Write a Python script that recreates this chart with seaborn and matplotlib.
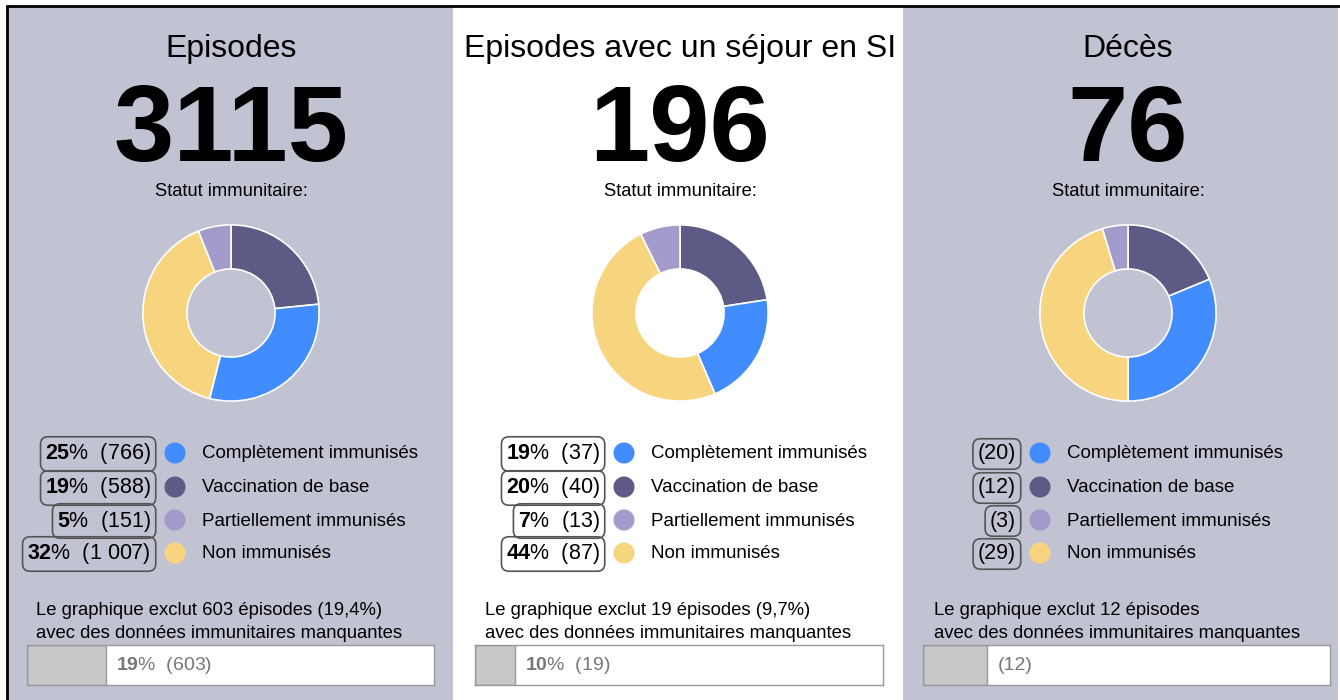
import matplotlib
matplotlib.use("Agg")
import matplotlib.pyplot as plt
import pandas as pd
import seaborn as sns
from matplotlib.patches import Rectangle

# data
titles = ["Episodes", "Episodes avec un séjour en SI", "Décès"]
totals = [3115, 196, 76]
categories = ["Complètement immunisés", "Vaccination de base",
              "Partiellement immunisés", "Non immunisés"]
colors = ["#418CFF", "#5D5A85", "#A39BCB", "#F7D57F"]
episodes_counts = [766, 588, 151, 1007]
si_counts = [37, 40, 13, 87]
deces_counts = [20, 12, 3, 29]
missing = [603, 19, 12]
show_pct = [True, True, False]
pie_order = [1, 0, 3, 2]  # clockwise from 12 o'clock

counts = [episodes_counts, si_counts, deces_counts]

sns.set_theme(style="white")
plt.rcParams["font.family"] = ["Liberation Sans", "DejaVu Sans"]
plt.rcParams["text.color"] = "black"
plt.rcParams["mathtext.fontset"] = "custom"
plt.rcParams["mathtext.rm"] = "Liberation Sans"
plt.rcParams["mathtext.bf"] = "Liberation Sans:bold"

W, H = 1340, 700
fig = plt.figure(figsize=(W / 100, H / 100), dpi=100)
fig.patch.set_facecolor("white")


def px_axes(x0, y0, x1, y1):
    return fig.add_axes([x0 / W, 1 - y1 / H, (x1 - x0) / W, (y1 - y0) / H])


def fmt(n):
    return f"{n:,}".replace(",", " ")


bg = px_axes(0, 0, W, H)
bg.set_xlim(0, W)
bg.set_ylim(H, 0)
bg.axis("off")

panels = [(8, 453, "#C2C3D2"), (453, 903, "white"), (903, 1338, "#C2C3D2")]
for x0, x1, fc in panels:
    bg.add_patch(Rectangle((x0, 6), x1 - x0, H - 6, facecolor=fc, edgecolor="none"))
bg.plot([7, W], [6, 6], color="black", lw=2)
bg.plot([7, 7], [6, H], color="black", lw=2)

centers = [231, 680, 1128]
leg_shift = [0, 0, -32]
bar_x = [(27, 434), (475, 883), (923, 1330)]
note_x = [36, 485, 934]

for i, cx in enumerate(centers):
    total = totals[i]
    vals = counts[i]
    bg.text(cx, 57, titles[i], ha="center", va="baseline", fontsize=23)
    bg.text(cx, 161, str(total), ha="center", va="baseline", fontsize=78,
            fontweight="bold")
    bg.text(cx, 196, "Statut immunitaire:", ha="center", va="baseline",
            fontsize=13.2)

    # donut
    ax = px_axes(cx - 89, 313 - 89, cx + 89, 313 + 89)
    ax.set_facecolor("none")
    ax.pie([vals[k] for k in pie_order], colors=[colors[k] for k in pie_order],
           startangle=90, counterclock=False, radius=1,
           wedgeprops=dict(width=0.5, edgecolor="white", linewidth=1.2))
    ax.set_xlim(-1.01, 1.01)
    ax.set_ylim(-1.01, 1.01)
    ax.axis("off")

    # legend
    sh = leg_shift[i]
    rows = [453, 487, 520, 553]
    leg = pd.DataFrame({"x": [cx - 56 + sh] * 4, "y": rows, "cat": categories})
    sns.scatterplot(data=leg, x="x", y="y", hue="cat", palette=colors,
                    s=230, linewidth=0, legend=False, ax=bg)
    for k, y in enumerate(rows):
        c = vals[k]
        if show_pct[i]:
            pct = round(100 * c / total)
            lab = rf"$\mathbf{{{pct}}}$%  ({fmt(c)})"
        else:
            lab = f"({fmt(c)})"
        bg.text(cx - 80 + sh, y + 1, lab, ha="right", va="center", fontsize=15.5,
                bbox=dict(boxstyle="round,pad=0.22,rounding_size=0.35",
                          facecolor="none", edgecolor="#555555", linewidth=1.2))
        bg.text(cx - 29 + sh, y + 1, categories[k], ha="left", va="center",
                fontsize=13.5)

    # missing data note
    miss = missing[i]
    if show_pct[i]:
        note = (f"Le graphique exclut {miss} épisodes "
                f"({100 * miss / total:.1f}%)".replace(".", ","))
    else:
        note = f"Le graphique exclut {miss} épisodes"
    bg.text(note_x[i], 615, note, ha="left", va="baseline", fontsize=13.3)
    bg.text(note_x[i], 638, "avec des données immunitaires manquantes",
            ha="left", va="baseline", fontsize=13.3)

    bx0, bx1 = bar_x[i]
    bax = px_axes(bx0, 645, bx1, 685)
    sns.barplot(x=[miss], y=[""], orient="h", color="#C8C8C8", width=1,
                edgecolor="#999999", linewidth=1, saturation=1, ax=bax)
    bax.set_xlim(0, total)
    bax.set_ylim(0.5, -0.5)
    bax.set_facecolor("white")
    bax.set_xticks([])
    bax.set_yticks([])
    bax.set_xlabel("")
    bax.set_ylabel("")
    for sp in bax.spines.values():
        sp.set_color("#999999")
        sp.set_linewidth(1)
    if show_pct[i]:
        btxt = rf"$\mathbf{{{round(100 * miss / total)}}}$%  ({fmt(miss)})"
    else:
        btxt = f"({fmt(miss)})"
    bax.text(miss + total * 0.025, 0, btxt, ha="left", va="center",
             fontsize=14, color="#777777")

fig.savefig("out.png", dpi=100, facecolor="white")
